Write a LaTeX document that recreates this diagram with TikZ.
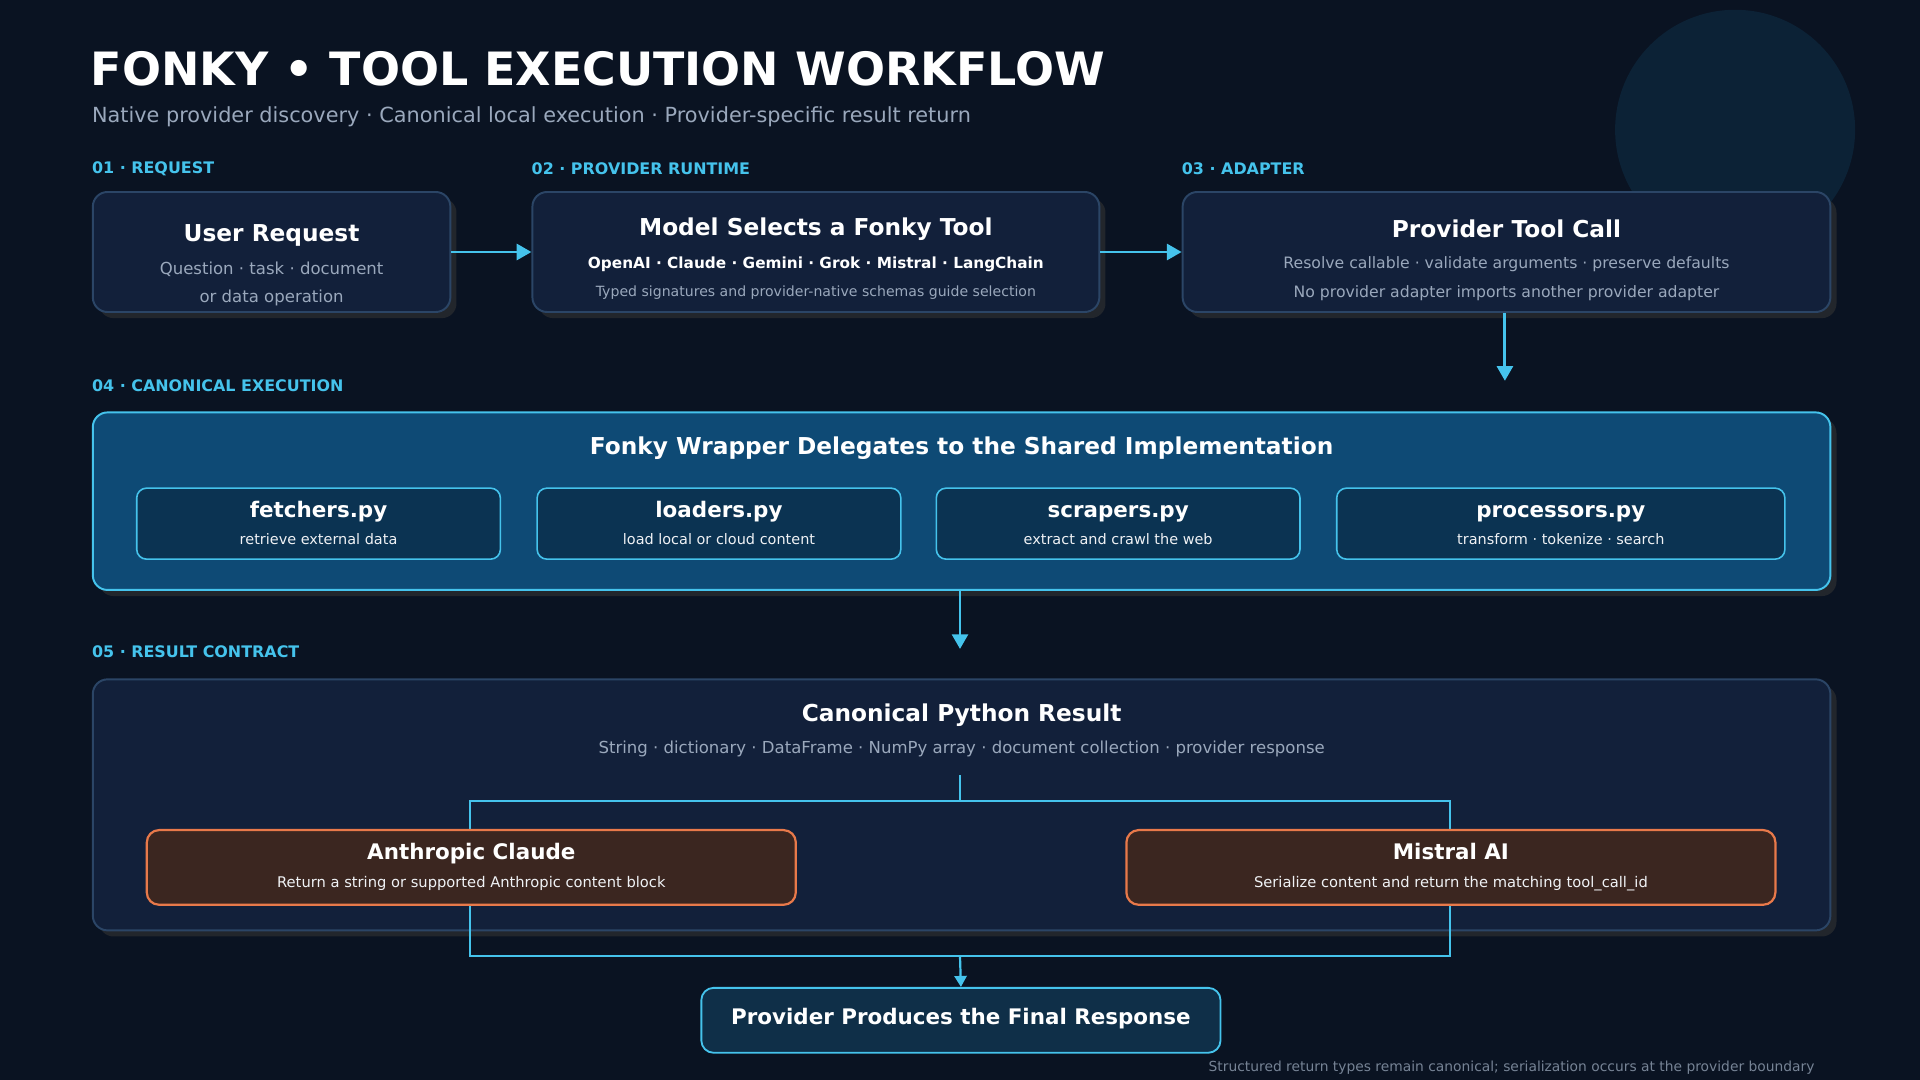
\documentclass[tikz,border=0pt]{standalone}
\usepackage{fontspec}
\setmainfont{DejaVu Sans}
\usetikzlibrary{arrows.meta,positioning,calc}

\definecolor{bgdark}{HTML}{0A1322}
\definecolor{orbfill}{HTML}{0C2236}
\definecolor{cardfill}{HTML}{12203A}
\definecolor{cardline}{HTML}{2B4566}
\definecolor{accent}{HTML}{45C3EC}
\definecolor{bluefill}{HTML}{0E4A75}
\definecolor{subfill}{HTML}{0B3352}
\definecolor{warmfill}{HTML}{3B2620}
\definecolor{warmline}{HTML}{E8794A}
\definecolor{mutedtxt}{HTML}{9AA8BC}
\definecolor{finalfill}{HTML}{0F2F48}

\tikzset{
  card/.style={draw=cardline, line width=1.6pt, fill=cardfill, rounded corners=12pt,
    anchor=north west, inner sep=0pt},
  shadowed/.style={preaction={fill=black!80, opacity=0.6, transform canvas={shift={(5pt,-5pt)}}}},
  tag/.style={anchor=west, inner sep=0pt, text=accent, font=\bfseries\fontsize{13}{13}\selectfont},
  head/.style={anchor=base, text=white, font=\bfseries\fontsize{19}{19}\selectfont, inner sep=0pt},
  sub/.style={anchor=base, text=mutedtxt, font=\fontsize{13.5}{13.5}\selectfont, inner sep=0pt},
  flow/.style={draw=accent, line width=2.4pt, -{Triangle[length=12pt,width=13pt]}},
  wire/.style={draw=accent, line width=1.8pt}
}

\begin{document}
\begin{tikzpicture}[x=1pt,y=-1pt]
  % background
  \fill[bgdark] (0,0) rectangle (1568,882);
  \useasboundingbox (0,0) rectangle (1568,882);
  \fill[orbfill] (1417,106) circle (98);

  % title
  \node[anchor=base west, inner sep=0pt, text=white, font=\bfseries\fontsize{37.5}{37.5}\selectfont] (title) at (74,70) {FONKY • TOOL EXECUTION WORKFLOW};
  \node[anchor=base west, inner sep=0pt, text=mutedtxt, font=\fontsize{17}{17}\selectfont] (subtitle) at (75,100) {Native provider discovery · Canonical local execution · Provider-specific result return};

  % stage tags
  \node[tag] (t1) at (75,138) {01 · REQUEST};
  \node[tag] (t2) at (434,138) {02 · PROVIDER RUNTIME};
  \node[tag] (t3) at (965,138) {03 · ADAPTER};
  \node[tag] (t4) at (75,315) {04 · CANONICAL EXECUTION};
  \node[tag] (t5) at (75,532) {05 · RESULT CONTRACT};

  % top row
  \node[card, shadowed, minimum width=292pt, minimum height=98pt] (request) at (75,156) {};
  \node[head] at ($(request.north)+(0,41)$) {User Request};
  \node[sub] at ($(request.north)+(0,68)$) {Question · task · document};
  \node[sub] at ($(request.north)+(0,91)$) {or data operation};

  \node[card, shadowed, minimum width=463pt, minimum height=98pt] (runtime) at (434,156) {};
  \node[head] at ($(runtime.north)+(0,36)$) {Model Selects a Fonky Tool};
  \node[head, font=\bfseries\fontsize{12.5}{12.5}\selectfont] at ($(runtime.north)+(0,63)$) {OpenAI · Claude · Gemini · Grok · Mistral · LangChain};
  \node[sub, font=\fontsize{11.5}{11.5}\selectfont] at ($(runtime.north)+(0,86)$) {Typed signatures and provider-native schemas guide selection};

  \node[card, shadowed, minimum width=529pt, minimum height=98pt] (adapter) at (965,156) {};
  \node[head] at ($(adapter.north)+(0,38)$) {Provider Tool Call};
  \node[sub, font=\fontsize{12.8}{12.8}\selectfont] at ($(adapter.north)+(0,63)$) {Resolve callable · validate arguments · preserve defaults};
  \node[sub, font=\fontsize{12.8}{12.8}\selectfont] at ($(adapter.north)+(0,87)$) {No provider adapter imports another provider adapter};

  % canonical execution
  \node[card, shadowed, draw=accent, fill=bluefill, minimum width=1419pt, minimum height=145pt] (wrapper) at (75,336) {};
  \node[head] at ($(wrapper.north)+(0,35)$) {Fonky Wrapper Delegates to the Shared Implementation};
  \foreach \nm/\xx/\ww/\file/\txt in {
      fetch/111/297/fetchers.py/retrieve external data,
      load/438/297/loaders.py/load local or cloud content,
      scrape/764/297/scrapers.py/extract and crawl the web,
      proc/1091/366/processors.py/transform · tokenize · search}{
    \node[card, draw=accent, fill=subfill, rounded corners=8pt, line width=1.3pt,
      minimum width=\ww pt, minimum height=58pt] (\nm) at (\xx,398) {};
    \node[head, font=\bfseries\fontsize{17.5}{17.5}\selectfont] at ($(\nm.north)+(0,25)$) {\file};
    \node[sub, text=white!85!mutedtxt, font=\fontsize{11.8}{11.8}\selectfont] at ($(\nm.north)+(0,47)$) {\txt};
  }

  % result contract
  \node[card, shadowed, minimum width=1419pt, minimum height=205pt] (result) at (75,554) {};
  \node[head] at ($(result.north)+(0,35)$) {Canonical Python Result};
  \node[sub] at ($(result.north)+(0,61)$) {String · dictionary · DataFrame · NumPy array · document collection · provider response};

  \coordinate (split) at (784,633);
  \coordinate (join) at (784,781);
  \draw[wire] (split) -- (784,654) -| (384,677);
  \draw[wire] (784,654) -| (1184,677);
  \draw[wire] (384,738) |- (join) -| (1184,738);

  \node[card, draw=warmline, fill=warmfill, rounded corners=10pt, line width=1.8pt,
    minimum width=530pt, minimum height=61pt] (claude) at (119,677) {};
  \node[head, font=\bfseries\fontsize{17.5}{17.5}\selectfont] at ($(claude.north)+(0,25)$) {Anthropic Claude};
  \node[sub, text=white!85!mutedtxt, font=\fontsize{12}{12}\selectfont] at ($(claude.north)+(0,48)$) {Return a string or supported Anthropic content block};

  \node[card, draw=warmline, fill=warmfill, rounded corners=10pt, line width=1.8pt,
    minimum width=530pt, minimum height=61pt] (mistral) at (919,677) {};
  \node[head, font=\bfseries\fontsize{17.5}{17.5}\selectfont] at ($(mistral.north)+(0,25)$) {Mistral AI};
  \node[sub, text=white!85!mutedtxt, font=\fontsize{12}{12}\selectfont] at ($(mistral.north)+(0,48)$) {Serialize content and return the matching tool\_call\_id};

  \node[card, draw=accent, fill=finalfill, rounded corners=10pt, line width=1.5pt,
    minimum width=424pt, minimum height=53pt] (final) at (572,806) {};
  \node[head, font=\bfseries\fontsize{17.5}{17.5}\selectfont] at ($(final.north)+(0,31)$) {Provider Produces the Final Response};

  \node[anchor=base east, inner sep=0pt, text=mutedtxt!75!bgdark, font=\fontsize{11.3}{11.3}\selectfont] (note) at (1482,875) {Structured return types remain canonical; serialization occurs at the provider boundary};

  % flow arrows
  \draw[flow] (request.east) -- (runtime.west);
  \draw[flow] (runtime.east) -- (adapter.west);
  \draw[flow] (adapter.south -| 1229,0) -- (1229,311);
  \draw[flow] (wrapper.south -| 784,0) -- (784,530);
  \draw[flow, line width=1.8pt, -{Triangle[length=9pt,width=10pt]}] (join) -- (final.north);
\end{tikzpicture}
\end{document}
